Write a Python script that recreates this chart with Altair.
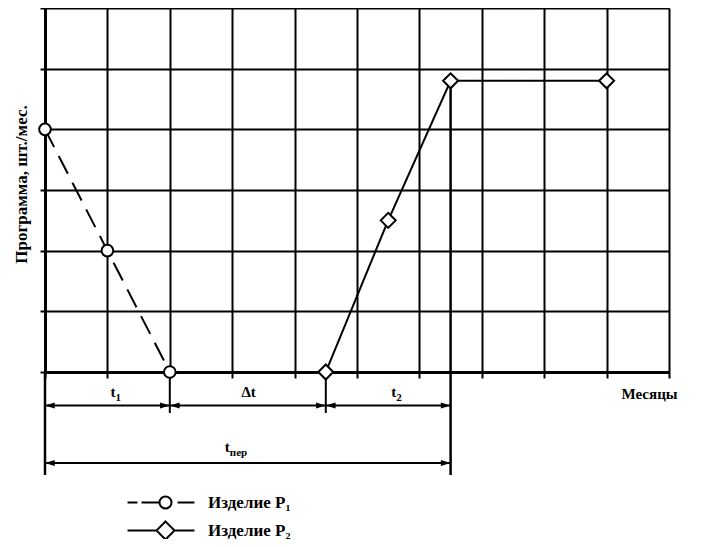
import altair as alt
import pandas as pd

# ---- data ----
p1_months = [0, 1, 2]
p1_program = [4, 2, 0]
p2_months = [4.5, 5.5, 6.5, 9]
p2_program = [0, 2.5, 4.8, 4.8]
series_names = ["P1", "P2"]
legend_labels = ["Изделие P₁", "Изделие P₂"]
interval_main = ["t", "Δt", "t"]
interval_sub = ["1", "", "2"]
total_main = ["t"]
total_sub = ["пер"]
x_ticks = list(range(0, 11))
y_ticks = list(range(0, 7))
y_title = "Программа, шт./мес."
x_title = "Месяцы"

FONT = "Liberation Serif"
W, H = 624, 364

# ---- tables built from the arrays ----
series_df = pd.DataFrame(
    [{"series": series_names[0], "x": x, "y": y} for x, y in zip(p1_months, p1_program)]
    + [{"series": series_names[1], "x": x, "y": y} for x, y in zip(p2_months, p2_program)]
)
series_df["grp"] = series_df["series"]

t_start = p1_months[0]
t_switch = p1_months[-1]
t_p2_start = p2_months[0]
p2_level = max(p2_program)
t_p2_full = p2_months[p2_program.index(p2_level)]

bounds = [t_start, t_switch, t_p2_start, t_p2_full]
intervals_df = pd.DataFrame({
    "x1": bounds[:-1],
    "x2": bounds[1:],
    "main": interval_main,
    "sub": interval_sub,
})
intervals_df["mid"] = (intervals_df["x1"] + intervals_df["x2"]) / 2
total_df = pd.DataFrame({"x1": [t_start], "x2": [t_p2_full],
                         "main": total_main, "sub": total_sub})
total_df["mid"] = (total_df["x1"] + total_df["x2"]) / 2

short_df = pd.DataFrame({"x": [t_switch, t_p2_start]})
start_df = pd.DataFrame({"x": [t_start]})
full_df = pd.DataFrame({"x": [t_p2_full], "y": [p2_level]})

# ---- layout constants (pixels inside the plot area) ----
ROW1_Y = 397.5
ROW2_Y = 455
SHORT_BOTTOM = 405
LONG_BOTTOM = 467

xs = alt.Scale(domain=[0, 10], nice=False, zero=False)
ys = alt.Scale(domain=[0, 6], nice=False, zero=False)

x_axis = alt.Axis(values=x_ticks, labels=False, ticks=True, tickSize=6,
                  tickWidth=2, tickColor="black", grid=True, gridColor="black",
                  gridWidth=2, gridOpacity=1, domainColor="black", domainWidth=3,
                  title=x_title, titleFont=FONT, titleFontSize=15,
                  titleFontWeight="bold", titleColor="black",
                  titleAnchor="end", titleAlign="right", titleBaseline="middle",
                  titleX=632, titleY=21)
y_axis = alt.Axis(values=y_ticks, labels=False, ticks=True, tickSize=5,
                  tickWidth=2, tickColor="black", grid=True, gridColor="black",
                  gridWidth=2, gridOpacity=1, domainColor="black", domainWidth=3,
                  title=y_title, titleFont=FONT, titleFontSize=17,
                  titleFontWeight="bold", titleColor="black",
                  titleAngle=270, titleAlign="center", titleBaseline="middle",
                  titleX=-24, titleY=176)

# legend glyphs: line pieces + marker, in symbol units (each piece is a
# short subpath so the series dash pattern leaves it solid)
P1_PATH = ("M-6.33,0L-4.67,0M-4.0,0L-1,0"
           "M1,0A1,1 0 0,1 0,1M0,1A1,1 0 0,1 -1,0"
           "M-1,0A1,1 0 0,1 0,-1M0,-1A1,1 0 0,1 1,0"
           "M2,0L4.83,0")
P2_PATH = ("M-6.33,0L-1.5,0M-1.5,0L0,-1.5L1.5,0L0,1.5L-1.5,0"
           "M1.5,0L4.83,0")
label_expr = ("datum.value == '%s' ? '%s' : '%s'"
              % (series_names[0], legend_labels[0], legend_labels[1]))

full_legend = alt.Legend(
    title=None, orient="none", legendX=112, legendY=486, padding=0,
    labelExpr=label_expr, labelFont=FONT, labelFontSize=17,
    labelFontWeight="bold", labelColor="black", labelOffset=34,
    symbolSize=144, rowPadding=4,
    symbolFillColor="white", symbolStrokeColor="black",
    symbolStrokeWidth=2, symbolOpacity=1,
)

base = alt.Chart(series_df)

grid = base.mark_point(opacity=0).encode(
    x=alt.X("x:Q", scale=xs, axis=x_axis),
    y=alt.Y("y:Q", scale=ys, axis=y_axis),
)

lines = base.mark_line(color="black", strokeWidth=2).encode(
    x=alt.X("x:Q", scale=xs),
    y=alt.Y("y:Q", scale=ys),
    strokeDash=alt.StrokeDash("series:N",
                              scale=alt.Scale(domain=series_names,
                                              range=[[20, 10], [1, 0]]),
                              legend=full_legend),
)

circles = base.transform_filter(
    alt.datum.series == series_names[0]
).mark_point(shape="circle", size=135, filled=True, fill="white",
             stroke="black", strokeWidth=2, opacity=1).encode(
    x=alt.X("x:Q", scale=xs), y=alt.Y("y:Q", scale=ys))

diamonds = base.transform_filter(
    alt.datum.series == series_names[1]
).mark_point(shape="diamond", size=225, filled=True, fill="white",
             stroke="black", strokeWidth=2, opacity=1).encode(
    x=alt.X("x:Q", scale=xs), y=alt.Y("y:Q", scale=ys))

# carries the legend glyph shapes; its own marks are pushed off the plot
legend_layer = base.transform_calculate(off="-100").mark_point(
    filled=True, fill="white", stroke="black", strokeWidth=2,
    opacity=1, clip=True).encode(
    x=alt.X("off:Q", scale=xs), y=alt.Y("y:Q", scale=ys),
    shape=alt.Shape("grp:N", scale=alt.Scale(domain=series_names,
                                             range=[P1_PATH, P2_PATH]),
                    legend=alt.Legend(orient="none", legendX=400, legendY=420,
                                      title="B")),
)

short_rules = alt.Chart(short_df).mark_rule(color="black", strokeWidth=2).encode(
    x=alt.X("x:Q", scale=xs), y=alt.value(H), y2=alt.value(SHORT_BOTTOM))
start_rule = alt.Chart(start_df).mark_rule(color="black", strokeWidth=2.5).encode(
    x=alt.X("x:Q", scale=xs), y=alt.value(H), y2=alt.value(LONG_BOTTOM))
full_rule = alt.Chart(full_df).mark_rule(color="black", strokeWidth=2.5).encode(
    x=alt.X("x:Q", scale=xs), y=alt.Y("y:Q", scale=ys), y2=alt.value(LONG_BOTTOM))

RIGHT_HEAD = "M0,0L-1,-0.3L-1,0.3Z"
LEFT_HEAD = "M0,0L1,-0.3L1,0.3Z"


def arrows(df, row_y):
    c = alt.Chart(df)
    shaft = c.mark_rule(color="black", strokeWidth=1.8).encode(
        x=alt.X("x1:Q", scale=xs), x2="x2:Q", y=alt.value(row_y))
    lh = c.mark_point(shape=LEFT_HEAD, filled=True, color="black", opacity=1,
                      size=380).encode(x=alt.X("x1:Q", scale=xs), y=alt.value(row_y))
    rh = c.mark_point(shape=RIGHT_HEAD, filled=True, color="black", opacity=1,
                      size=380).encode(x=alt.X("x2:Q", scale=xs), y=alt.value(row_y))
    return [shaft, lh, rh]


def labels(df, base_y, dx):
    c = alt.Chart(df)
    main = c.mark_text(font=FONT, fontSize=15, fontWeight="bold", color="black",
                       align="right", baseline="alphabetic", dx=dx).encode(
        x=alt.X("mid:Q", scale=xs), y=alt.value(base_y), text="main:N")
    sub = c.mark_text(font=FONT, fontSize=11, fontWeight="bold", color="black",
                      align="left", baseline="alphabetic", dx=dx).encode(
        x=alt.X("mid:Q", scale=xs), y=alt.value(base_y + 4), text="sub:N")
    return [main, sub]


layers = ([grid, short_rules, start_rule, full_rule, lines, legend_layer,
           circles, diamonds]
          + arrows(intervals_df, ROW1_Y) + arrows(total_df, ROW2_Y)
          + labels(intervals_df, 389, 8) + labels(total_df, 444, -18))

chart = alt.layer(*layers).properties(
    width=W, height=H,
    autosize=alt.AutoSizeParams(type="none"),
    padding={"left": 37, "top": 0, "right": 25, "bottom": 167},
).configure_view(stroke=None).configure(background="white")

chart.save("out.html", embed_options={"renderer": "svg", "actions": False})
